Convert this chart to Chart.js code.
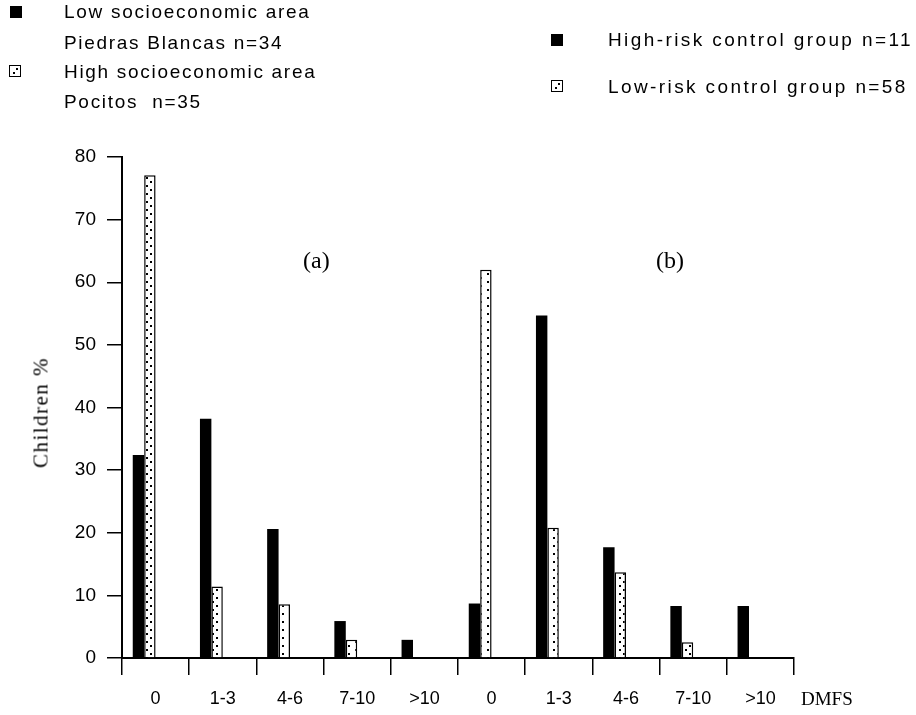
<!DOCTYPE html>
<html>
<head>
<meta charset="utf-8">
<script src="https://cdn.jsdelivr.net/npm/chart.js@4.4.1/dist/chart.umd.min.js"></script>
<style>
    body { margin: 0; background: #fff; }
    #wrap { position: relative; width: 916px; height: 715px; overflow: hidden; }
    #chart { position: absolute; left: 0; top: 0; }
    .txt { position: absolute; white-space: nowrap; color: #000; }
    .sans { font-family: "Liberation Sans", Arial, sans-serif; font-size: 19px; letter-spacing: 1.7px; }
    .wide { letter-spacing: 2.4px; }
    .serif { font-family: "Liberation Serif", "Times New Roman", serif; }
    .box { position: absolute; width: 12px; height: 12px; background: #000; }
    .dotbox { position: absolute; width: 10px; height: 10px; border: 1.5px solid #000; background: #fff; }
    .dotbox i { position: absolute; width: 2px; height: 2px; background: #000; }
</style>
</head>
<body>
<div id="wrap">
    <canvas id="chart" width="916" height="715"></canvas>

    <!-- legend, left group (a) -->
    <div class="box" style="left:10px;top:6px;"></div>
    <div class="txt sans" style="left:64px;top:1px;">Low socioeconomic area</div>
    <div class="txt sans" style="left:64px;top:32px;">Piedras Blancas n=34</div>
    <div class="dotbox" style="left:9px;top:65px;"><i style="left:6px;top:2px;"></i><i style="left:3px;top:6px;"></i></div>
    <div class="txt sans" style="left:64px;top:61px;">High socioeconomic area</div>
    <div class="txt sans" style="left:64px;top:91px;">Pocitos&nbsp; n=35</div>

    <!-- legend, right group (b) -->
    <div class="box" style="left:551px;top:34px;"></div>
    <div class="txt sans wide" style="left:608px;top:29px;">High-risk control group n=11</div>
    <div class="dotbox" style="left:551px;top:80px;"><i style="left:6px;top:2px;"></i><i style="left:3px;top:6px;"></i></div>
    <div class="txt sans wide" style="left:608px;top:76px;">Low-risk control group n=58</div>

    <!-- panel marks and axis titles -->
    <div class="txt serif" style="left:303px;top:247px;font-size:24px;">(a)</div>
    <div class="txt serif" style="left:656px;top:247px;font-size:24px;">(b)</div>
    <div class="txt serif" style="left:801px;top:688px;font-size:19px;">DMFS</div>
    <div class="txt serif" style="left:-21px;top:400px;font-size:21px;letter-spacing:1.5px;transform:rotate(-90deg);transform-origin:center;width:124px;text-align:center;">Children %</div>
</div>

<script>
// DMFS classes, first five for panel (a), last five for panel (b)
const categories = ["0", "1-3", "4-6", "7-10", ">10", "0", "1-3", "4-6", "7-10", ">10"];

// % of children; (a) low / high socioeconomic area, (b) high / low risk control group
const solidValues = [32.4, 38.2, 20.6, 5.9, 2.9, 8.7, 54.7, 17.7, 8.3, 8.3];
const dottedValues = [77.1, 11.4, 8.6, 2.9, 0, 62.0, 20.8, 13.7, 2.5, 0];

const yMin = 0;
const yMax = 80;
const yStep = 10;

// white fill with scattered black dots
function dotPattern() {
    const c = document.createElement("canvas");
    c.width = 11;
    c.height = 8;
    const g = c.getContext("2d");
    g.fillStyle = "#fff";
    g.fillRect(0, 0, 11, 8);
    g.fillStyle = "#000";
    g.fillRect(3, 1, 2, 2);
    g.fillRect(7, 5, 2, 2);
    return g.createPattern(c, "repeat");
}

const ctx = document.getElementById("chart");
new Chart(ctx, {
    type: "bar",
    data: {
        labels: categories,
        datasets: [
            {
                data: solidValues,
                backgroundColor: "#000",
                borderWidth: 0,
            },
            {
                data: dottedValues,
                backgroundColor: dotPattern(),
                borderColor: "#000",
                borderWidth: 1.5,
                borderSkipped: "bottom",
            },
            // empty slots so the pair sits left of the category centre
            { data: [] },
            { data: [] },
        ],
    },
    options: {
        responsive: false,
        animation: false,
        categoryPercentage: 0.68,
        barPercentage: 1,
        layout: { padding: { top: 157, right: 122, left: 0, bottom: 0 } },
        plugins: {
            legend: { display: false },
            tooltip: { enabled: false },
        },
        scales: {
            x: {
                grid: {
                    offset: true,
                    drawOnChartArea: false,
                    tickLength: 17,
                    color: "#000",
                    lineWidth: 1.5,
                },
                border: { color: "#000", width: 2 },
                ticks: {
                    color: "#000",
                    padding: 13,
                    autoSkip: false,
                    maxRotation: 0,
                    font: { family: "Liberation Sans", size: 18 },
                },
                afterFit: (s) => { s.height = 57; },
            },
            y: {
                min: yMin,
                max: yMax,
                grid: {
                    drawOnChartArea: false,
                    tickLength: 15,
                    color: "#000",
                    lineWidth: 1.5,
                },
                border: { color: "#000", width: 2 },
                ticks: {
                    stepSize: yStep,
                    color: "#000",
                    padding: 11,
                    font: { family: "Liberation Sans", size: 19 },
                },
                afterFit: (s) => { s.width = 122; },
            },
        },
    },
});
</script>
</body>
</html>
